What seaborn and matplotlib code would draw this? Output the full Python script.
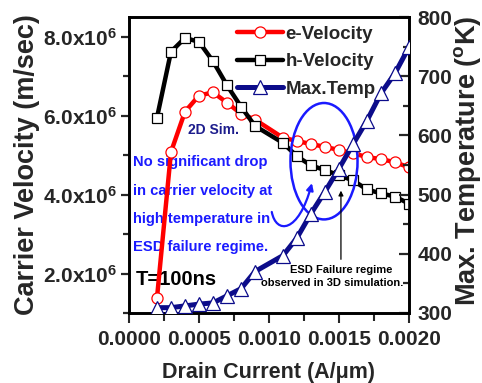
import matplotlib
matplotlib.use("Agg")
import matplotlib.pyplot as plt
from matplotlib import font_manager as fm
from matplotlib.patches import Ellipse, FancyArrowPatch
from matplotlib.path import Path
from matplotlib.ticker import MultipleLocator, FixedLocator, FuncFormatter, FormatStrFormatter
import numpy as np
import pandas as pd
import seaborn as sns

# ---- data -------------------------------------------------------------
current = [0.0002, 0.0003, 0.0004, 0.0005, 0.0006, 0.0007, 0.0008, 0.0009,
           0.0011, 0.0012, 0.0013, 0.0014, 0.0015, 0.0016, 0.0017, 0.0018,
           0.0019, 0.0020]
e_velocity = [1.38e6, 5.08e6, 6.10e6, 6.51e6, 6.59e6, 6.33e6, 6.05e6, 5.90e6,
              5.44e6, 5.36e6, 5.28e6, 5.21e6, 5.13e6, 5.05e6, 4.95e6, 4.90e6,
              4.82e6, 4.69e6]
h_velocity = [5.95e6, 7.62e6, 7.97e6, 7.87e6, 7.38e6, 6.77e6, 6.23e6, 5.74e6,
              5.31e6, 4.97e6, 4.74e6, 4.62e6, 4.49e6, 4.36e6, 4.13e6, 4.03e6,
              3.95e6, 3.77e6]
max_temp = [309, 309, 312, 315, 317, 329, 341, 370,
            397, 427, 468, 505, 544, 585, 625, 671,
            705, 749]

x_ticks = [0.0, 0.0005, 0.0010, 0.0015, 0.0020]
v_ticks = [2e6, 4e6, 6e6, 8e6]
t_ticks = [300, 400, 500, 600, 700, 800]

df = pd.DataFrame({"I": current, "ev": e_velocity, "hv": h_velocity, "T": max_temp})

# ---- style ------------------------------------------------------------
sns.set_theme(style="ticks")
names = {f.name for f in fm.fontManager.ttflist}
NARROW = "Liberation Sans Narrow" if "Liberation Sans Narrow" in names else "Liberation Sans"
plt.rcParams["font.family"] = ["Liberation Sans", "DejaVu Sans"]
plt.rcParams["font.weight"] = "bold"
plt.rcParams["mathtext.fontset"] = "custom"
plt.rcParams["mathtext.rm"] = f"{NARROW}:bold"
plt.rcParams["mathtext.bf"] = f"{NARROW}:bold"
plt.rcParams["mathtext.it"] = f"{NARROW}:bold"
plt.rcParams["axes.linewidth"] = 1.9

RED = "#ff0000"
NAVY = "#0c0c8a"
BLUE = "#1a1aff"

fig = plt.figure(figsize=(4.82, 3.83), dpi=100)
ax = fig.add_axes([0.2676, 0.1828, 0.5809, 0.7728])
ax2 = ax.twinx()

sns.lineplot(data=df, x="I", y="hv", ax=ax, color="black", lw=3.2,
             marker="s", markersize=7.5, markerfacecolor="white",
             markeredgecolor="black", markeredgewidth=0.9,
             label="h-Velocity", legend=False, zorder=3)
sns.lineplot(data=df, x="I", y="ev", ax=ax, color=RED, lw=3.2,
             marker="o", markersize=8, markerfacecolor="white",
             markeredgecolor=RED, markeredgewidth=0.9,
             label="e-Velocity", legend=False, zorder=2)
sns.lineplot(data=df, x="I", y="T", ax=ax2, color=NAVY, lw=3.6,
             marker="^", markersize=9.5, markerfacecolor="white",
             markeredgecolor=NAVY, markeredgewidth=0.9,
             label="Max.Temp", legend=False, zorder=3)

# ---- axes -------------------------------------------------------------
ax.set_xlim(0, 0.002)
ax.set_ylim(1e6, 8.5e6)
ax2.set_ylim(300, 800)

ax.xaxis.set_major_locator(FixedLocator(x_ticks))
ax.xaxis.set_minor_locator(MultipleLocator(0.00025))
ax.xaxis.set_major_formatter(FormatStrFormatter("%.4f"))
ax.yaxis.set_major_locator(FixedLocator(v_ticks))
ax.yaxis.set_minor_locator(MultipleLocator(1e6))
ax.yaxis.set_major_formatter(FuncFormatter(
    lambda v, p: r"$\mathrm{%.1fx10}^{6}$" % (v / 1e6)))
ax2.yaxis.set_major_locator(FixedLocator(t_ticks))
ax2.yaxis.set_minor_locator(MultipleLocator(50))

ax.tick_params(axis="x", which="major", direction="out", length=7, width=1.5, pad=5)
ax.tick_params(axis="x", which="minor", direction="out", length=6, width=1.5)
ax.tick_params(axis="y", which="major", direction="out", length=6, width=1.6, pad=3)
ax.tick_params(axis="y", which="minor", direction="out", length=4, width=1.6)
ax.tick_params(top=False, right=False, which="both")
ax2.tick_params(axis="y", which="major", direction="in", length=7, width=1.6, pad=6)
ax2.tick_params(axis="y", which="minor", direction="in", length=4, width=1.6)

for lab in ax.get_xticklabels() + ax.get_yticklabels() + ax2.get_yticklabels():
    lab.set_fontfamily(NARROW)
    lab.set_fontweight("bold")
    lab.set_fontsize(15)

ax.set_xlabel("Drain Current (A/\u03bcm)", fontsize=15.5, fontweight="bold")
ax.xaxis.set_label_coords(0.5, -0.165)
ax.set_ylabel("Carrier Velocity (m/sec)", fontsize=19.5, fontweight="bold")
ax.yaxis.set_label_coords(-0.318, 0.5)
ax2.set_ylabel(r"Max. Temperature ($^{\mathrm{o}}$K)", fontsize=19.5, fontweight="bold")
ax2.yaxis.set_label_coords(1.154, 0.515)

for a in (ax, ax2):
    for s in a.spines.values():
        s.set_linewidth(1.9)
        s.set_color("black")

# ---- legend -----------------------------------------------------------
h1, l1 = ax.get_legend_handles_labels()
h2, l2 = ax2.get_legend_handles_labels()
handles = [h1[1], h1[0], h2[0]]
labels = [l1[1], l1[0], l2[0]]
leg = ax2.legend(handles, labels, loc="upper left",
                 bbox_to_anchor=(0.492, 0.933), bbox_transform=fig.transFigure,
                 frameon=False, fontsize=13.5, handlelength=2.45,
                 handletextpad=0.12, labelspacing=0.55, borderpad=0,
                 borderaxespad=0)
for t in leg.get_texts():
    t.set_fontweight("bold")

# ---- annotations ------------------------------------------------------
ax.text(0.000607, 5.64e6, "2D Sim.", color="#1c1c8c", fontsize=10,
        fontweight="bold", ha="center", va="center", zorder=1)

note_lines = ["No significant drop", "in carrier velocity at",
              "high temperature in", "ESD failure regime."]
note_y = [4.82e6, 4.10e6, 3.38e6, 2.67e6]
for txt, yy in zip(note_lines, note_y):
    ax.text(0.00003, yy, txt, color=BLUE, fontsize=10.6, fontweight="bold",
            ha="left", va="center", zorder=1)

ax.text(0.00005, 1.85e6, "T=100ns", color="black", fontsize=14.5,
        fontweight="bold", ha="left", va="center", zorder=1)

ax.add_patch(Ellipse((0.001393, 4.846e6), 0.000479, 2.95e6, fill=False,
                     edgecolor=BLUE, lw=1.8, zorder=4))

# curved pointer from the note into the circled region
hook = Path([(0.00102, 3.56e6), (0.00105, 3.0e6), (0.00121, 3.0e6), (0.001307, 4.29e6)],
            [Path.MOVETO, Path.CURVE4, Path.CURVE4, Path.CURVE4])
ax.add_patch(FancyArrowPatch(path=hook, arrowstyle="-|>", color=BLUE, lw=1.6,
                             mutation_scale=10, zorder=4))

ax.annotate("", xy=(0.001514, 4.10e6), xytext=(0.001514, 2.36e6),
            arrowprops=dict(arrowstyle="-|>", color="black", lw=0.9,
                            mutation_scale=7, shrinkA=0, shrinkB=0),
            zorder=4)
ax.text(0.001514, 2.10e6, "ESD Failure regime", fontsize=8,
        fontweight="bold", ha="center", va="center", color="black", zorder=4)
ax.text(0.00145, 1.77e6, "observed in 3D simulation.", fontsize=8,
        fontweight="bold", ha="center", va="center", color="black", zorder=4)

ax2.set_zorder(ax.get_zorder() + 1)
ax.patch.set_visible(True)
ax2.patch.set_visible(False)

fig.savefig("out.png", dpi=100, facecolor="white")
